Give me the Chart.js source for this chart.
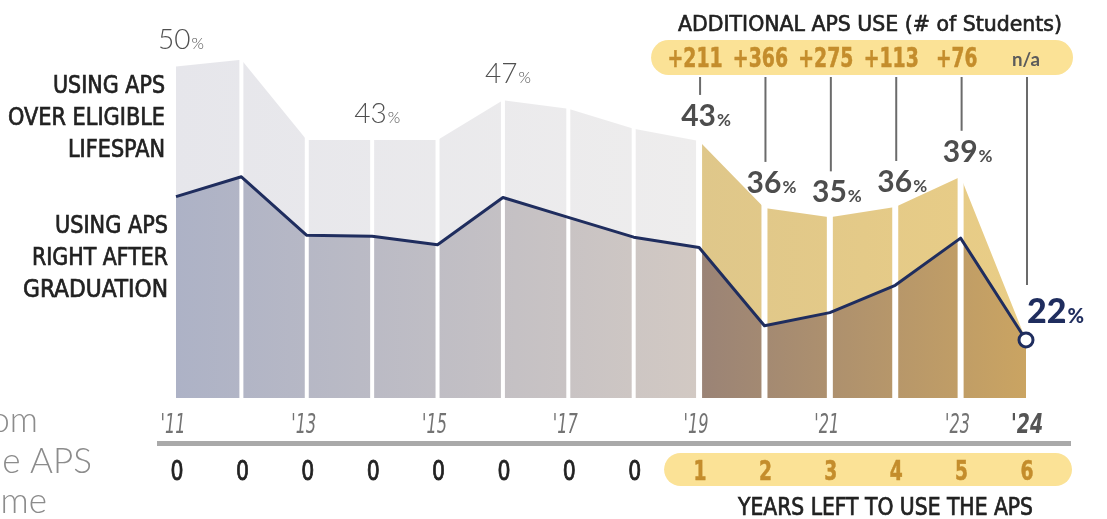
<!DOCTYPE html>
<html>
<head>
<meta charset="utf-8">
<script src="https://cdn.jsdelivr.net/npm/chart.js@4.4.1/dist/chart.umd.min.js"></script>
<style>
  html, body { margin: 0; padding: 0; background: #fff; }
  canvas { display: block; }
</style>
</head>
<body>
<canvas id="myChart" width="1107" height="519"></canvas>
<script>
// Datos
//? años (eje x)
const years = ["'11", "'12", "'13", "'14", "'15", "'16", "'17", "'18", "'19", "'20", "'21", "'22", "'23", "'24"];
//? años con etiqueta visible
const tickYears = ["'11", "'13", "'15", "'17", "'19", "'21", "'23", "'24"];
//? usando APS durante la vida elegible (%)
const eligibleLifespan = [51.0, 51.7, 43.2, 43.2, 43.2, 47.4, 46.5, 44.4, 43.1, 36.0, 35.0, 36.1, 39.3, 22];
//? etiquetas impresas sobre el área superior
const eligibleLabels = ["50", null, null, "43", null, "47", null, null, "43", "36", "35", "36", "39", null];
//? usando APS justo después de graduarse (%)
const afterGraduation = [37.2, 39.3, 33.1, 33.0, 32.1, 37.1, 35.0, 32.9, 31.8, 23.5, 24.9, 27.8, 32.8, 22];
const finalLabel = "22";
//? años restantes para usar el APS
const yearsLeft = [0, 0, 0, 0, 0, 0, 0, 0, 1, 2, 3, 4, 5, 6];
//? uso adicional (# de estudiantes), desde '19
const additionalUse = ["+211", "+366", "+275", "+113", "+76", "n/a"];

// Estilos
const navy = "#1f2d5e";
const oro = "#c48d2c";
const amarillo = "#fbe296";
const fCond = '"Liberation Sans Narrow", "DejaVu Sans Condensed", "Roboto Condensed", sans-serif';
const fRed = 'Lato, "Open Sans", sans-serif';

// Funciones
//? gradiente horizontal con corte en '19
function gradiente(chart, izq, der) {
  const { ctx, chartArea, scales } = chart;
  if (!chartArea || !scales.x) return izq[0];
  const x0 = chartArea.left;
  const x1 = chartArea.right;
  const corte = (scales.x.getPixelForValue(8) - x0) / (x1 - x0);
  const g = ctx.createLinearGradient(x0, 0, x1, 0);
  g.addColorStop(0, izq[0]);
  g.addColorStop(corte, izq[1]);
  g.addColorStop(corte, der[0]);
  g.addColorStop(1, der[1]);
  return g;
}

//? texto con ancho opcional (y trazo para engrosar)
function texto(ctx, str, x, y, font, color, align, ancho, grosor) {
  ctx.font = font;
  ctx.fillStyle = color;
  ctx.textAlign = align || "left";
  ctx.textBaseline = "alphabetic";
  let s = 1;
  if (ancho) s = ancho / ctx.measureText(str).width;
  ctx.save();
  ctx.translate(x, y);
  ctx.scale(s, 1);
  ctx.fillText(str, 0, 0);
  if (grosor) {
    ctx.strokeStyle = color;
    ctx.lineWidth = grosor;
    ctx.strokeText(str, 0, 0);
  }
  ctx.restore();
}

//? numero + % pequeño
function porcentaje(ctx, num, x, base, fNum, fPct, color, align) {
  ctx.font = fNum;
  const w1 = ctx.measureText(num).width;
  ctx.font = fPct;
  const w2 = ctx.measureText("%").width;
  const x0 = align === "left" ? x : x - (w1 + 1 + w2) / 2;
  ctx.fillStyle = color;
  ctx.textAlign = "left";
  ctx.textBaseline = "alphabetic";
  ctx.font = fNum;
  ctx.fillText(num, x0, base);
  ctx.font = fPct;
  ctx.fillText("%", x0 + w1 + 1, base);
}

function pastilla(ctx, x0, x1, y0, y1, color) {
  const r = (y1 - y0) / 2;
  ctx.fillStyle = color;
  ctx.beginPath();
  ctx.moveTo(x0 + r, y0);
  ctx.lineTo(x1 - r, y0);
  ctx.arc(x1 - r, y0 + r, r, -Math.PI / 2, Math.PI / 2);
  ctx.lineTo(x0 + r, y1);
  ctx.arc(x0 + r, y0 + r, r, Math.PI / 2, Math.PI * 1.5);
  ctx.closePath();
  ctx.fill();
}

// Plugins
//? separadores blancos entre años
const separadores = {
  id: "separadores",
  beforeDatasetsDraw(chart) {
    const { ctx, scales: { x, y } } = chart;
    ctx.save();
    ctx.strokeStyle = "#ffffff";
    for (let i = 1; i < years.length - 1; i++) {
      const px = x.getPixelForValue(i);
      ctx.lineWidth = i < 8 ? 4 : 6;
      ctx.beginPath();
      ctx.moveTo(px, y.getPixelForValue(eligibleLifespan[i]) - 6);
      ctx.lineTo(px, y.getPixelForValue(y.min) + 2);
      ctx.stroke();
    }
    ctx.restore();
  },
};

//? textos, pastillas y ejes dibujados a mano
const anotaciones = {
  id: "anotaciones",
  afterDraw(chart) {
    const { ctx, scales: { x, y } } = chart;
    ctx.save();

    // etiquetas izquierda
    const fIzq = "25px " + fCond;
    texto(ctx, "USING APS", 165, 93, fIzq, "#222", "right", 112, 0.7);
    texto(ctx, "OVER ELIGIBLE", 165, 125, fIzq, "#222", "right", 157, 0.7);
    texto(ctx, "LIFESPAN", 165, 157, fIzq, "#222", "right", 97, 0.7);
    texto(ctx, "USING APS", 168, 233, fIzq, "#222", "right", 113, 0.7);
    texto(ctx, "RIGHT AFTER", 168, 265, fIzq, "#222", "right", 136, 0.7);
    texto(ctx, "GRADUATION", 168, 297, fIzq, "#222", "right", 145, 0.7);

    // texto cortado a la izquierda
    texto(ctx, "om", 38, 432, "300 35px " + fRed, "#8c8c8c", "right");
    texto(ctx, "e APS", 92, 473, "300 35px " + fRed, "#8c8c8c", "right");
    texto(ctx, "me", 47, 513, "300 35px " + fRed, "#8c8c8c", "right");

    // porcentajes
    eligibleLabels.forEach((lab, i) => {
      if (!lab) return;
      const py = y.getPixelForValue(eligibleLifespan[i]);
      const px = x.getPixelForValue(i);
      if (i < 8) {
        porcentaje(ctx, lab, px + 5, py - 17, "300 28px " + fRed, "300 16px " + fRed, "#505050");
      } else {
        porcentaje(ctx, lab, px + 7, py - 15, "bold 30px " + fRed, "bold 17px " + fRed, "#4d4d4d");
      }
    });
    const last = years.length - 1;
    const pxUlt = x.getPixelForValue(last);
    const pyUlt = y.getPixelForValue(afterGraduation[last]);
    porcentaje(ctx, finalLabel, pxUlt + 1, pyUlt - 17, "900 34px " + fRed, "900 20px " + fRed, navy, "left");

    // titulo y pastilla superior
    texto(ctx, "ADDITIONAL APS USE (# of Students)", 870, 31, "22px " + fCond, "#222", "center", 384, 0.6);
    pastilla(ctx, x.getPixelForValue(8) - 48, x.getPixelForValue(last) + 47, 40, 75, amarillo);

    // conectores y valores adicionales
    ctx.strokeStyle = "#6b6b6b";
    ctx.lineWidth = 2;
    additionalUse.forEach((val, k) => {
      const i = 8 + k;
      const px = x.getPixelForValue(i);
      let fin;
      if (i === last) fin = pyUlt - 55;
      else fin = y.getPixelForValue(eligibleLifespan[i]) - 15 - 22 - 9;
      ctx.strokeStyle = "#6b6b6b";
      ctx.lineWidth = 2;
      ctx.beginPath();
      ctx.moveTo(px + 1, 77);
      ctx.lineTo(px + 1, fin);
      ctx.stroke();
      if (val === "n/a") {
        texto(ctx, val, px, 66, "bold 18px " + fRed, "#5b5b5b", "center", 28);
      } else {
        texto(ctx, val, px - 4, 67, "bold 27px " + fCond, oro, "center", 13.8 * val.length, 0.5);
      }
    });

    // etiquetas del eje x
    years.forEach((lab, i) => {
      if (!tickYears.includes(lab)) return;
      const px = x.getPixelForValue(i);
      if (i === last) {
        texto(ctx, lab, px + 1, 433, "italic bold 27px " + fCond, "#555", "center", 32);
      } else {
        texto(ctx, lab, px - 3, 433, "italic 300 27px " + fCond, "#737373", "center", 25);
      }
    });

    // linea gris
    ctx.strokeStyle = "#a9a9a9";
    ctx.lineWidth = 5;
    ctx.beginPath();
    ctx.moveTo(x.getPixelForValue(0) - 19, 443.5);
    ctx.lineTo(x.getPixelForValue(last) + 45, 443.5);
    ctx.stroke();

    // años restantes
    pastilla(ctx, x.getPixelForValue(8) - 35, x.getPixelForValue(last) + 46, 453, 486, amarillo);
    yearsLeft.forEach((n, i) => {
      const px = x.getPixelForValue(i) + 1;
      if (n === 0) texto(ctx, String(n), px, 480, "26px " + fCond, "#222", "center", 13, 0.8);
      else texto(ctx, String(n), px, 480, "bold 26px " + fCond, oro, "center", 13, 0.5);
    });
    texto(ctx, "YEARS LEFT TO USE THE APS", 885.5, 515, "25px " + fCond, "#222", "center", 295, 0.7);

    ctx.restore();
  },
};

// Grafico
const ctx = document.getElementById("myChart");
new Chart(ctx, {
  type: "line",
  data: {
    labels: years,
    datasets: [
      {
        label: "Using APS right after graduation",
        data: afterGraduation,
        borderColor: navy,
        borderWidth: 3,
        borderJoinStyle: "round",
        fill: "start",
        backgroundColor: (c) => gradiente(c.chart, ["#adb2c6", "#d2c9c3"], ["#9a8376", "#caa462"]),
        pointRadius: (c) => (c.dataIndex === years.length - 1 ? 7 : 0),
        pointBorderWidth: 3,
        pointBorderColor: navy,
        pointBackgroundColor: "#ffffff",
        clip: false,
      },
      {
        label: "Using APS over eligible lifespan",
        data: eligibleLifespan,
        borderWidth: 0,
        pointRadius: 0,
        fill: "-1",
        backgroundColor: (c) => gradiente(c.chart, ["#e6e6eb", "#eeeded"], ["#dfc78a", "#e9cd86"]),
        clip: false,
      },
    ],
  },
  options: {
    responsive: false,
    animation: false,
    events: [],
    layout: { autoPadding: false, padding: { left: 176, right: 81, top: 40, bottom: 121 } },
    scales: {
      x: { display: false, offset: false },
      y: { display: false, min: 15.85, max: 53.8 },
    },
    plugins: {
      legend: { display: false },
      tooltip: { enabled: false },
      filler: { drawTime: "beforeDatasetsDraw" },
    },
  },
  plugins: [separadores, anotaciones],
});
</script>
</body>
</html>
